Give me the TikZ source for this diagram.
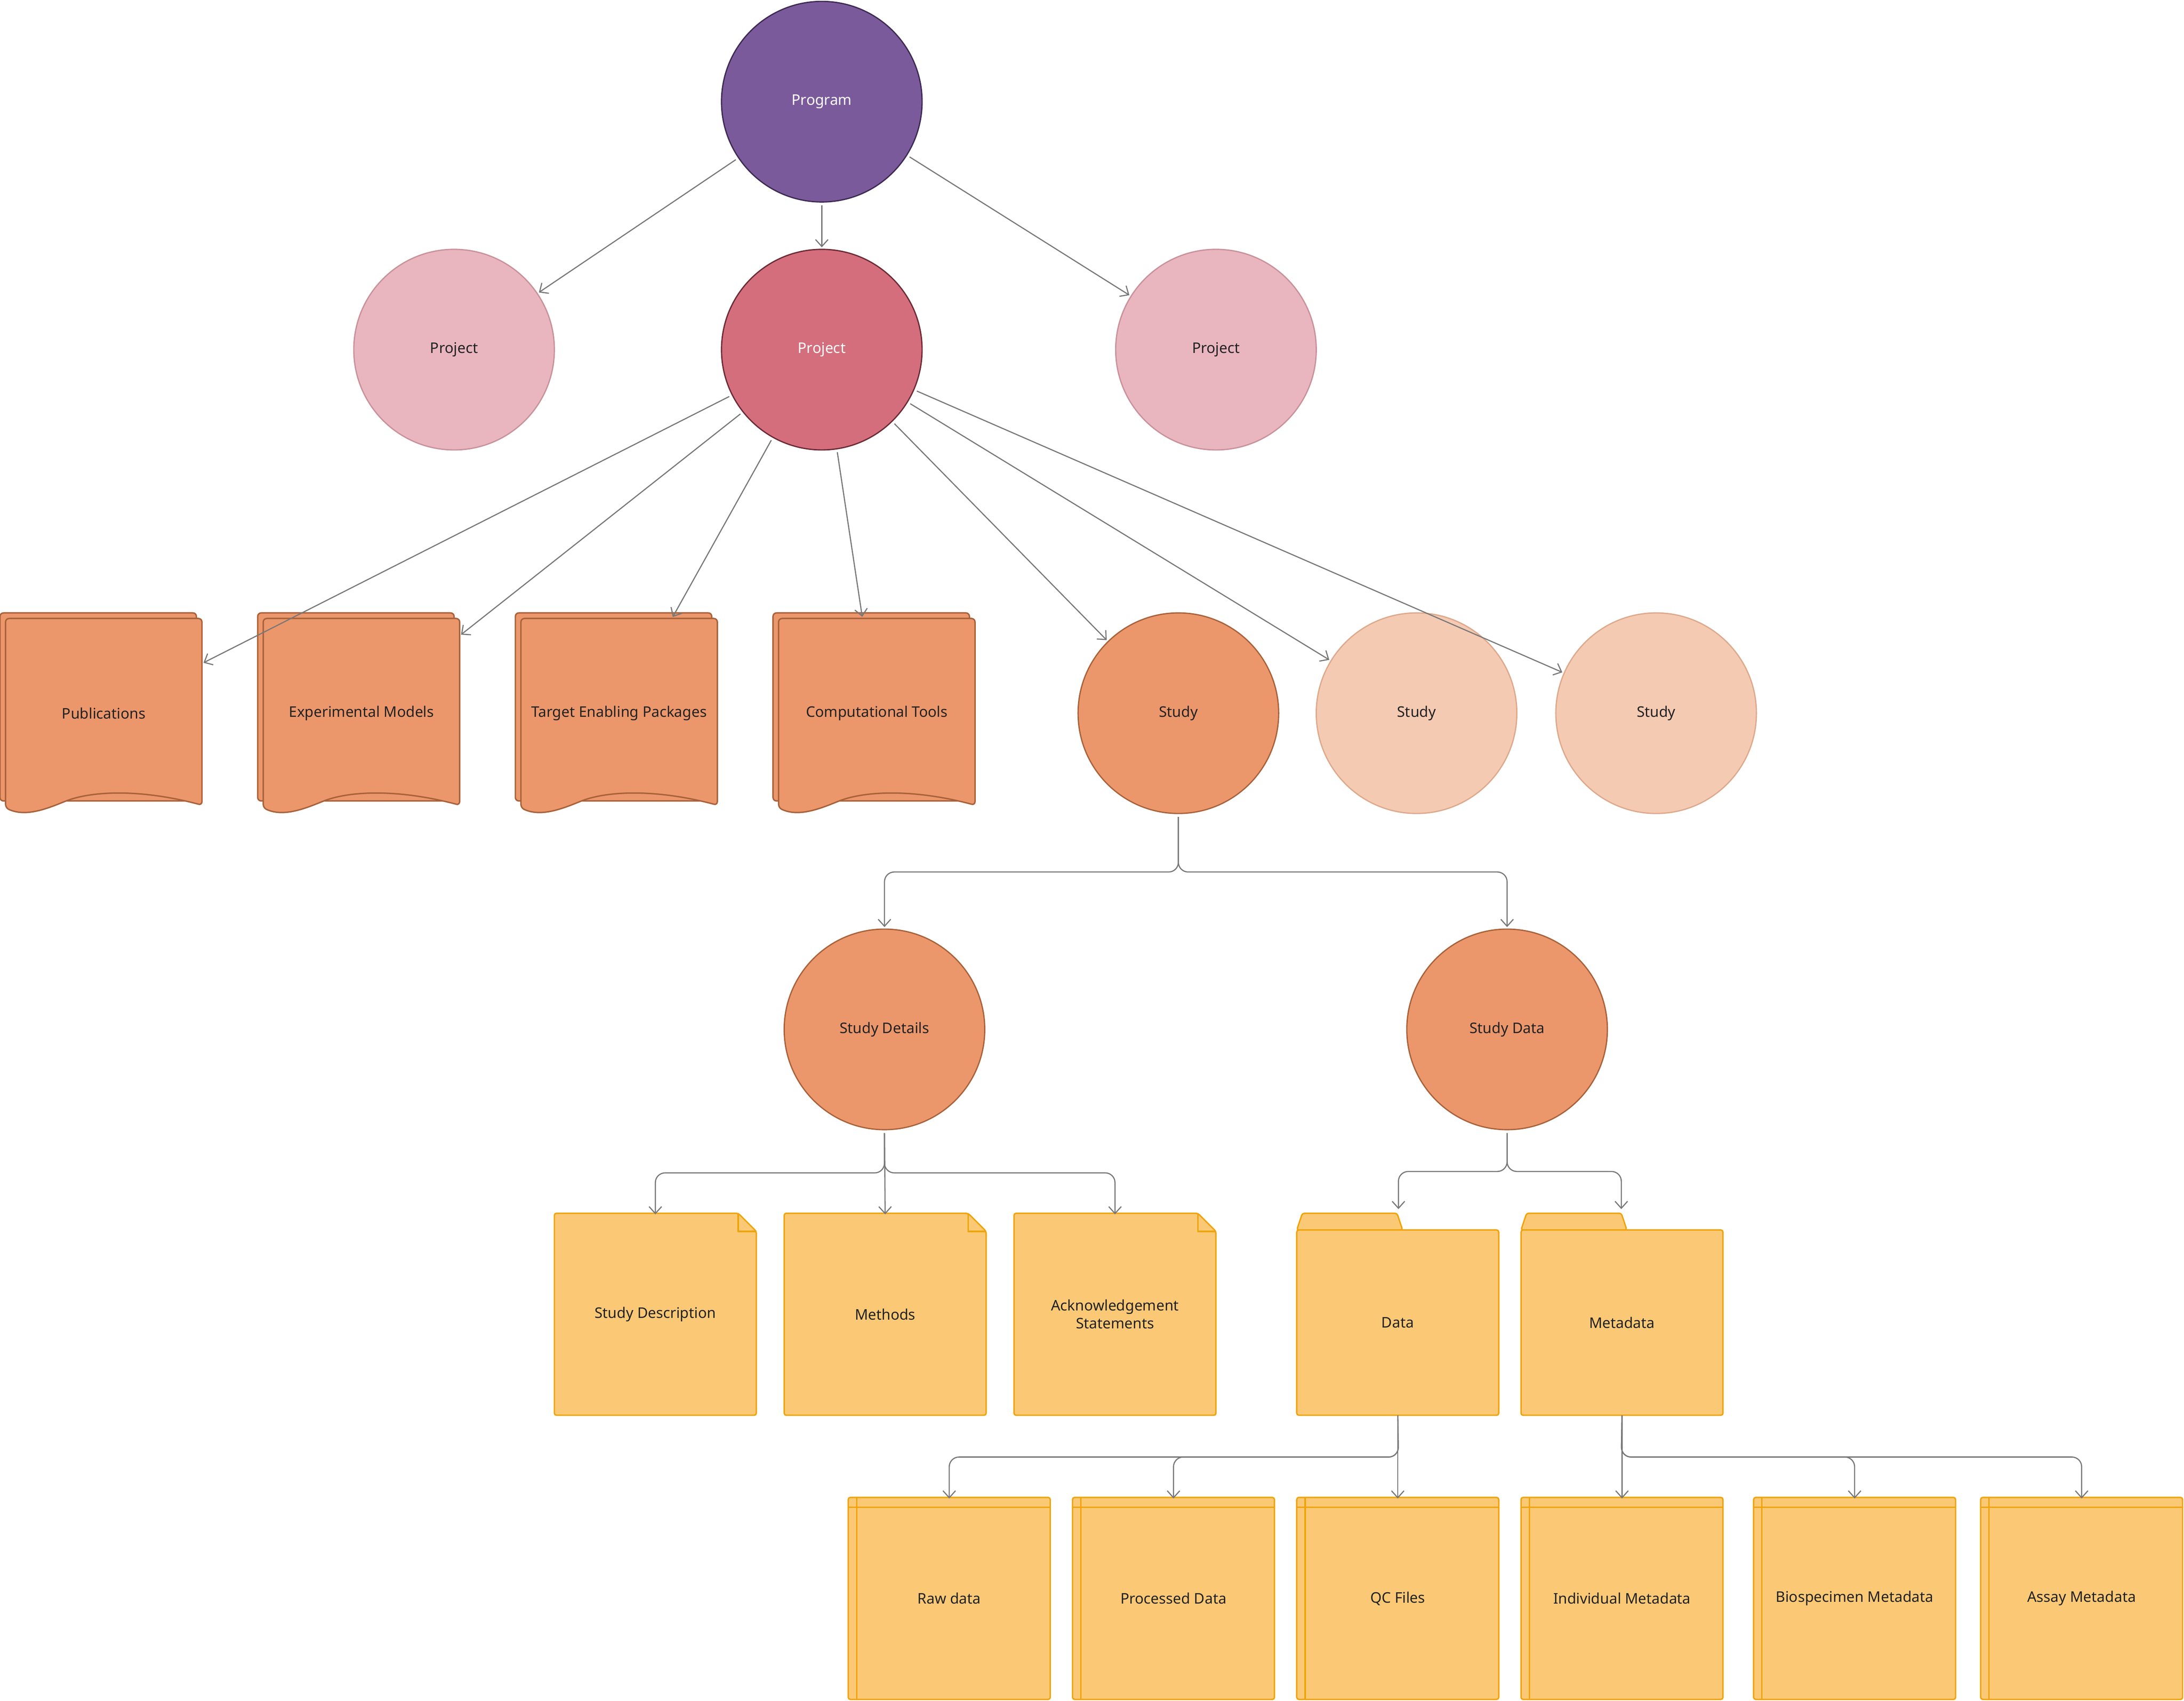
\documentclass[tikz,border=0pt]{standalone}
\usepackage{fontspec}
\setmainfont{Noto Sans}
\usetikzlibrary{arrows.meta,backgrounds}
\definecolor{progF}{HTML}{7B5A9C}\definecolor{progD}{HTML}{3D2A52}
\definecolor{projF}{HTML}{D46E7C}\definecolor{projD}{HTML}{6B2A35}
\definecolor{projL}{HTML}{E9B6BF}\definecolor{projLD}{HTML}{C9919B}
\definecolor{orF}{HTML}{EB976B}\definecolor{orD}{HTML}{A8613A}
\definecolor{orL}{HTML}{F5CAB3}\definecolor{orLD}{HTML}{DDA98C}
\definecolor{yeF}{HTML}{FBC975}\definecolor{yeD}{HTML}{F0A30A}
\definecolor{conn}{HTML}{777777}\definecolor{txt}{HTML}{222222}
\tikzset{
  circ/.style={circle,minimum size=144pt,inner sep=0pt,line width=0.9pt,font=\fontsize{10.5}{12}\selectfont,text=txt},
  box/.style={rectangle,minimum width=145pt,minimum height=145pt,inner sep=0pt,font=\fontsize{10.5}{13}\selectfont,text=txt,align=center},
  conn/.style={draw=conn,line width=0.8pt,-{Straight Barb[length=5pt,width=9pt]},shorten >=1pt,shorten <=2pt},
  elb/.style={conn,rounded corners=7pt},
  ye/.style={fill=yeF,draw=yeD,line width=1pt,rounded corners=1.5pt},
  orr/.style={fill=orF,draw=orD,line width=1pt,rounded corners=2.5pt}
}
\begin{document}
\begin{tikzpicture}[x=1pt,y=-1pt]
\useasboundingbox (0,0) rectangle (1568,1221);
% circles
\node[circ,fill=progF,draw=progD,text=white,font=\fontsize{10.5}{12}\selectfont\bfseries] (prog) at (590,73) {Program};
\node[circ,fill=projL,draw=projLD] (projA) at (326,251) {Project};
\node[circ,fill=projF,draw=projD,text=white,font=\fontsize{10.5}{12}\selectfont\bfseries] (proj) at (590,251) {Project};
\node[circ,fill=projL,draw=projLD] (projB) at (873,251) {Project};
\node[circ,fill=orF,draw=orD,font=\fontsize{10.5}{12}\selectfont\bfseries] (study) at (846,512) {Study};
\node[circ,fill=orL,draw=orLD] (studyB) at (1017,512) {Study};
\node[circ,fill=orL,draw=orLD] (studyC) at (1189,512) {Study};
\node[circ,fill=orF,draw=orD,font=\fontsize{10.5}{12}\selectfont\bfseries] (sdet) at (635,739) {Study Details};
\node[circ,fill=orF,draw=orD,font=\fontsize{10.5}{12}\selectfont\bfseries] (sdat) at (1082,739) {Study Data};
% multi documents
\foreach \n/\cx/\t in {pub/75/Publications,exp/260/Experimental Models,tep/445/Target Enabling Packages,comp/630/Computational Tools}{
  \begin{scope}
  \draw[orr] (\cx-75,440) rectangle (\cx+66,575);
  \draw[orr] (\cx-71,444) -- (\cx+70,444) -- (\cx+70,578) .. controls (\cx+25,566) and (\cx-10,568) .. (\cx-30,576) .. controls (\cx-45,582) and (\cx-58,586) .. (\cx-71,580) -- cycle;
  \end{scope}
  \node[box,minimum width=141pt,minimum height=136pt] (\n) at (\cx-0.5,512) {\t};
}
% notes
\foreach \n/\x/\t in {desc/398/Study Description,meth/563/Methods,ack/728/{Acknowledgement\\Statements}}{
  \draw[ye] (\x,871) -- (\x+132,871) -- (\x+145,884) -- (\x+145,1016) -- (\x,1016) -- cycle;
  \draw[yeD,line width=1pt,line join=round] (\x+132,871) -- (\x+132,884) -- (\x+145,884);
  \node[box] (\n) at (\x+72.5,943.5) {\t};
}
% folders
\foreach \n/\x/\t in {data/931/Data,meta/1092/Metadata}{
  \draw[ye] (\x,883) -- (\x+4,871) -- (\x+72,871) -- (\x+76,883) -- cycle;
  \draw[ye] (\x,883) rectangle (\x+145,1016);
  \node[box,minimum height=133pt] (\n) at (\x+72.5,949.5) {\t};
}
% internal storage
\foreach \n/\x/\t in {raw/609/Raw data,proc/770/Processed Data,qc/931/QC Files,ind/1092/Individual Metadata,bio/1259/Biospecimen Metadata,assay/1422/Assay Metadata}{
  \draw[ye] (\x,1075) rectangle (\x+145,1220);
  \draw[yeD,line width=1pt] (\x,1082) -- (\x+145,1082) (\x+6,1075) -- (\x+6,1220);
  \node[box] (\n) at (\x+72.5,1147.5) {\t};
}
% connectors
\draw[conn] (prog) -- (projA);
\draw[conn] (prog) -- (proj);
\draw[conn] (prog) -- (projB);
\foreach \t in {pub,exp,tep,comp,study,studyB,studyC}{\draw[conn] (proj) -- (\t);}
\coordinate (j1) at (846,626);
\draw[elb] (study.south) -- (j1) -| (sdet.north);
\draw[elb] (study.south) -- (j1) -| (sdat.north);
\coordinate (j2) at (635,842);
\draw[elb] (sdet.south) -- (j2) -| ([yshift=-2pt]desc.north);
\draw[conn] (sdet.south) -- ([yshift=-2pt]meth.north);
\draw[elb] (sdet.south) -- (j2) -| ([yshift=-2pt]ack.north);
\coordinate (j3) at (1082,841);
\draw[elb] (sdat.south) -- (j3) -| (1004,869);
\draw[elb] (sdat.south) -- (j3) -| (1164,869);
\coordinate (j4) at (1004,1046);
\draw[elb] ([yshift=2pt]data.south) -- (j4) -| ([yshift=-2pt]raw.north);
\draw[elb] ([yshift=2pt]data.south) -- (j4) -| ([yshift=-2pt]proc.north);
\draw[conn] ([yshift=2pt]data.south) -- ([yshift=-2pt]qc.north);
\coordinate (j5) at (1164,1046);
\draw[conn] ([yshift=2pt]meta.south) -- ([yshift=-2pt]ind.north);
\draw[elb] ([yshift=2pt]meta.south) -- (j5) -| ([yshift=-2pt]bio.north);
\draw[elb] ([yshift=2pt]meta.south) -- (j5) -| ([yshift=-2pt]assay.north);
\end{tikzpicture}
\end{document}
